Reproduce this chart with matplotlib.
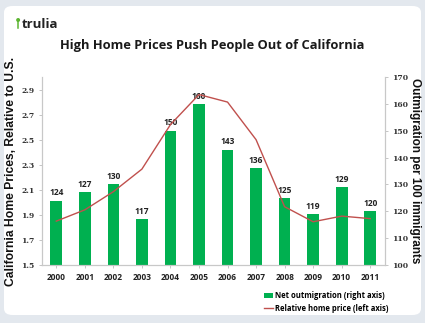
import matplotlib
matplotlib.use("Agg")
import matplotlib.pyplot as plt
from matplotlib.patches import FancyBboxPatch, Patch
from matplotlib.lines import Line2D

years = ["2000", "2001", "2002", "2003", "2004", "2005", "2006", "2007", "2008", "2009", "2010", "2011"]
outmigration = [124, 127, 130, 117, 150, 160, 143, 136, 125, 119, 129, 120]
rel_price = [1.85, 1.94, 2.085, 2.265, 2.62, 2.86, 2.80, 2.50, 1.965, 1.845, 1.89, 1.87]
left_ticks = [1.5, 1.7, 1.9, 2.1, 2.3, 2.5, 2.7, 2.9]
right_ticks = [100, 110, 120, 130, 140, 150, 160, 170]

W, H = 425, 323
fig = plt.figure(figsize=(W / 100, H / 100), dpi=100)
fig.patch.set_facecolor("#e3e8ee")

card = FancyBboxPatch((4 / W, 8 / H), (W - 8) / W, (H - 14) / H,
                      boxstyle="round,pad=0,rounding_size=0.02",
                      transform=fig.transFigure, facecolor="white",
                      edgecolor="#e3e8ee", linewidth=0, zorder=-5)
fig.patches.append(card)

# logo
fig.text(22 / W, 1 - 24 / H, "trulia", fontsize=9.5, fontweight="bold",
         family="Open Sans", color="#222222", va="center", ha="left")
fig.text(17.5 / W, 1 - 20.5 / H, "\u2022", fontsize=10, color="#5cb531", va="center", ha="center")
fig.add_artist(Line2D([17.5 / W, 17.5 / W], [1 - 20 / H, 1 - 28 / H], transform=fig.transFigure,
                      color="#5cb531", lw=1.1))

fig.text(212 / W, 1 - 46 / H, "High Home Prices Push People Out of California",
         fontsize=9.3, fontweight="bold", family="Open Sans", color="#1a1a1a",
         ha="center", va="center")

ax = fig.add_axes([42 / W, 1 - 265 / H, (384.5 - 42) / W, (265 - 77) / H])
ax2 = ax.twinx()
ax.set_zorder(ax2.get_zorder() + 1)
ax.patch.set_visible(False)
ax2.patch.set_visible(False)

x = list(range(len(years)))
ax2.bar(x, outmigration, width=0.41, color="#00b050", zorder=2)
for xi, v in zip(x, outmigration):
    ax2.text(xi, v + 1.2, str(v), ha="center", va="bottom", fontsize=6,
             fontweight="bold", family="Open Sans", color="#222222")
ax2.set_ylim(100, 170)
ax2.set_yticks(right_ticks)
ax2.set_yticklabels([str(t) for t in right_ticks], fontsize=5.5, family="DejaVu Serif",
                    fontweight="bold", color="#333333")

ax.plot(x, rel_price, color="#c0504d", lw=1.0, zorder=3)
ax.set_ylim(1.5, 3.0)
ax.set_yticks(left_ticks)
ax.set_yticklabels([f"{t:.1f}" for t in left_ticks], fontsize=5.5, family="DejaVu Serif",
                   fontweight="bold", color="#333333")
ax.set_xlim(-0.5, 11.5)
ax.set_xticks(x)
ax.set_xticklabels(years, fontsize=6, fontweight="bold", family="Open Sans", color="#222222")

for a in (ax, ax2):
    a.spines["top"].set_visible(False)
    for s in ("left", "right", "bottom"):
        a.spines[s].set_color("#c8c8c8")
        a.spines[s].set_linewidth(0.8)
    a.tick_params(axis="both", length=2.5, width=0.6, color="#bbbbbb", pad=3)

ax.set_ylabel("California Home Prices, Relative to U.S.", fontsize=8.7, fontweight="bold",
              family="Liberation Sans", color="#111111", labelpad=3)
ax2.set_ylabel("Outmigration per 100 immigrants", fontsize=8.5, fontweight="bold",
               family="Liberation Sans", color="#111111", rotation=270, labelpad=9)

handles = [Patch(facecolor="#00b050", edgecolor="none"),
           Line2D([0], [0], color="#c0504d", lw=1.0)]
fig.legend(handles, ["Net outmigration (right axis)", "Relative home price (left axis)"],
           loc="center left", bbox_to_anchor=(260 / W, 1 - 302 / H), frameon=False,
           prop={"family": "Open Sans", "weight": "bold", "size": 5.5},
           handlelength=1.2, handleheight=0.7, handletextpad=0.2, labelspacing=0.4,
           borderpad=0)

fig.savefig("out.png", dpi=100, facecolor=fig.get_facecolor())
